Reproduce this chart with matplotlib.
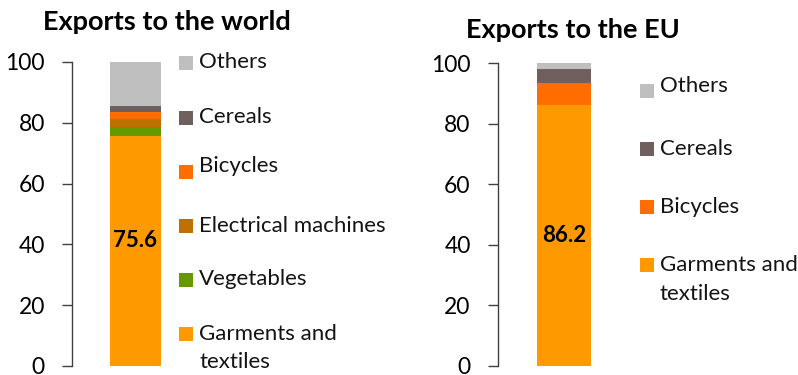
import matplotlib
matplotlib.use("Agg")
import matplotlib.pyplot as plt
from matplotlib.patches import Rectangle

plt.rcParams['font.family'] = ['Lato', 'DejaVu Sans']

# Shares of exports by product group (%)
world_categories = ["Garments and\ntextiles", "Vegetables", "Electrical machines",
                    "Bicycles", "Cereals", "Others"]
world_values = [75.6, 3.1, 2.55, 2.3, 2.05, 14.4]

eu_categories = ["Garments and\ntextiles", "Bicycles", "Cereals", "Others"]
eu_values = [86.2, 7.3, 4.5, 2.0]

colors = {
    "Garments and\ntextiles": "#FF9900",
    "Vegetables": "#669900",
    "Electrical machines": "#C07000",
    "Bicycles": "#FF6D00",
    "Cereals": "#6F5F5F",
    "Others": "#BFBFBF",
}

titles = ["Exports to the world", "Exports to the EU"]
y_ticks = [0, 20, 40, 60, 80, 100]

W, H = 798, 375
fig = plt.figure(figsize=(W / 100, H / 100), dpi=100)


def px_axes(left, top_y, right, bottom_y):
    return fig.add_axes([left / W, 1 - bottom_y / H, (right - left) / W, (bottom_y - top_y) / H])


def draw_stack(ax, cats, vals, bar_width, label_y):
    bottom = 0
    for c, v in zip(cats, vals):
        ax.bar(0, v, bottom=bottom, width=bar_width, color=colors[c], linewidth=0)
        bottom += v
    ax.set_xlim(-0.5, 0.5)
    ax.set_ylim(0, 100)
    ax.set_yticks(y_ticks)
    ax.set_xticks([])
    for s in ["top", "right", "bottom"]:
        ax.spines[s].set_visible(False)
    ax.spines["left"].set_color("#404040")
    ax.spines["left"].set_linewidth(1.0)
    ax.tick_params(axis="y", length=7, width=1.0, color="#404040", labelsize=16.5,
                   pad=12.5, labelcolor="#000000")
    for lbl in ax.get_yticklabels():
        lbl.set_verticalalignment("center_baseline")
    ax.text(0, label_y, f"{vals[0]:.1f}", ha="center", va="center",
            fontsize=16, fontweight="bold", color="#000000")


def draw_legend(entries, sq_x, text_x):
    # entries: (category, square centre y in px, text centre y in px)
    for c, sy, ty in entries:
        fig.patches.append(Rectangle((sq_x / W, 1 - (sy + 7) / H), 14 / W, 14 / H,
                                     transform=fig.transFigure, color=colors[c],
                                     linewidth=0))
        fig.text(text_x / W, 1 - ty / H, c, ha="left", va="center", fontsize=16,
                 color="#141414", linespacing=1.55)


ax1 = px_axes(72, 62, 199, 366)
draw_stack(ax1, world_categories, world_values, 51 / 127, world_values[0] * 0.548)
ax2 = px_axes(497.7, 63, 630.3, 365.7)
draw_stack(ax2, eu_categories, eu_values, 54 / 132.6, eu_values[0] * 0.5)

fig.text(167 / W, 1 - 22 / H, titles[0], ha="center", va="center",
         fontsize=19.5, fontweight="bold")
fig.text(572.5 / W, 1 - 30 / H, titles[1], ha="center", va="center",
         fontsize=19.5, fontweight="bold")

draw_legend([
    ("Others", 63, 62),
    ("Cereals", 118, 117),
    ("Bicycles", 172, 166),
    ("Electrical machines", 226, 226),
    ("Vegetables", 280, 279),
    ("Garments and\ntextiles", 334, 348),
], 179, 199)

draw_legend([
    ("Others", 91, 86),
    ("Cereals", 149, 149),
    ("Bicycles", 207, 207),
    ("Garments and\ntextiles", 265, 279.5),
], 640, 660)

fig.savefig("out.png", dpi=100)
